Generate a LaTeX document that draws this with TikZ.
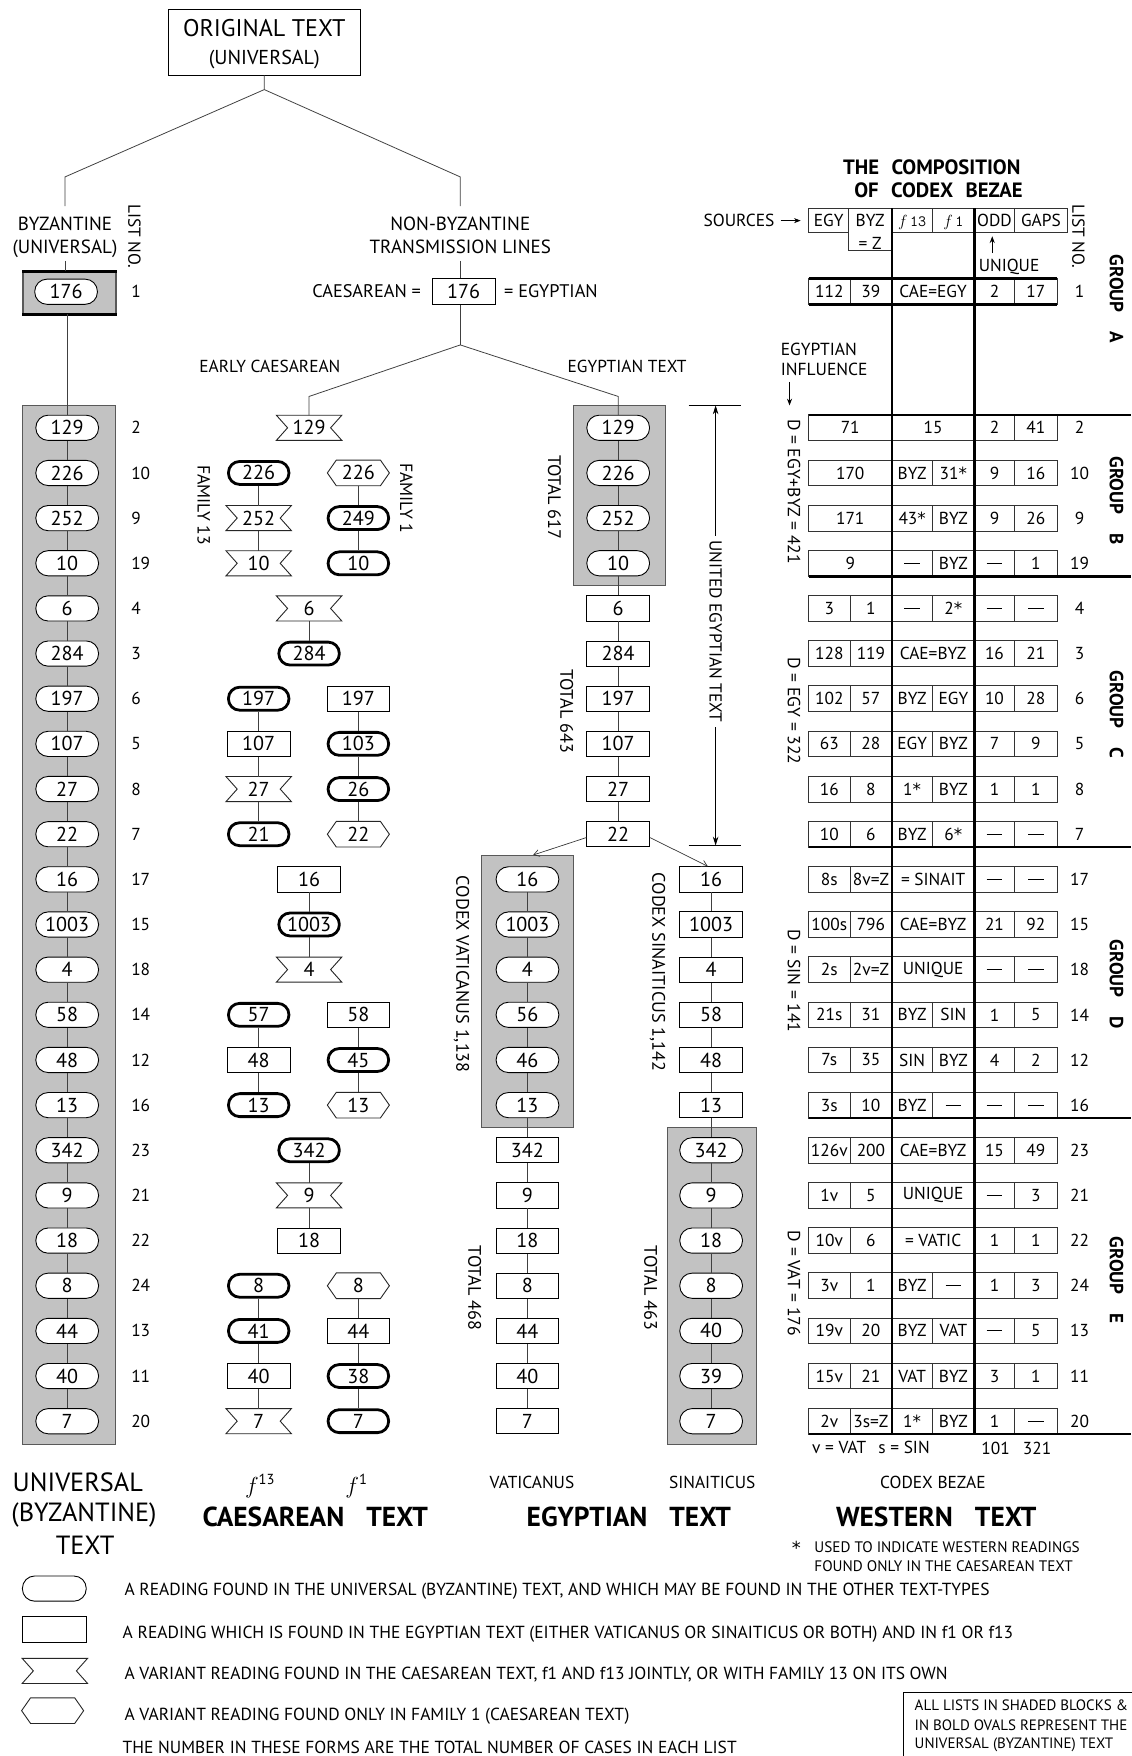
\documentclass[tikz,border=0pt]{standalone}
\usepackage{fontspec}
\setmainfont{PT Sans}
\newfontfamily\dvs{DejaVu Sans}
\usetikzlibrary{arrows.meta}
\definecolor{shade}{gray}{0.76}
\newcommand{\fnum}{\fontsize{18}{21}\selectfont}
\newcommand{\ftab}{\fontsize{15.5}{18}\selectfont}
\newcommand{\flab}{\fontsize{17}{20}\selectfont}
\newcommand{\fmid}{\fontsize{16.3}{19}\selectfont}
\newcommand{\flow}{\fontsize{15.5}{18}\selectfont}
\newcommand{\frot}{\fontsize{16.2}{19}\selectfont}
\newcommand{\fleg}{\fontsize{15.6}{18}\selectfont}
\newcommand{\fsm}{\fontsize{13.6}{16}\selectfont}
\newcommand{\fbx}{\fontsize{13.4}{16}\selectfont}
\newcommand{\fbig}{\fontsize{23.5}{27}\selectfont}
\newcommand{\fbold}{\fontsize{24.5}{28}\selectfont\bfseries}
\newcommand{\fgrp}{\fontsize{17}{20}\selectfont\bfseries}
\newcommand{\dsh}{\rule{14pt}{1pt}}
\newcommand{\st}{{\dvs\fontsize{15}{18}\selectfont *}}
\tikzset{
 conn/.style={line width=0.7pt, draw=black!75},
 ovn/.style={draw=black, line width=0.8pt, fill=white, rounded corners=11pt, minimum width=56pt, minimum height=22.5pt, inner sep=0pt, font=\fnum},
 bovn/.style={ovn, line width=2.5pt, rounded corners=10pt, minimum width=54pt, minimum height=20.5pt},
 rcn/.style={draw=black, line width=0.8pt, fill=white, minimum width=56pt, minimum height=22.5pt, inner sep=0pt, font=\fnum},
 ribn/.style={minimum width=58pt, minimum height=22pt, inner sep=0pt, font=\fnum},
 hexn/.style={minimum width=55pt, minimum height=22.5pt, inner sep=0pt, font=\fnum},
 shp/.style={draw=black!85, line width=0.8pt},
 gblock/.style={fill=shade, draw=black!65, line width=0.9pt},
 lno/.style={font=\fontsize{15.5}{18}\selectfont, inner sep=0pt, anchor=west},
 cellline/.style={line width=0.8pt, draw=black!80},
 tc/.style={font=\ftab, inner sep=0pt},
 thickl/.style={line width=2.4pt},
 lab/.style={font=\flab, inner sep=0pt},
 rl/.style={font=\frot, inner sep=0pt, rotate=-90},
 sm/.style={font=\fsm, inner sep=0pt},
 leg/.style={font=\fleg, inner sep=0pt, anchor=base west},
 arr/.style={-{Stealth[length=6pt,width=4.5pt]}, line width=0.7pt},
 barb/.style={-{Straight Barb[length=5pt,width=6pt]}, line width=0.6pt, draw=black!80},
}
\newcommand{\Rib}[4]{%
  \node[ribn] (#1) at (#2,#3) {#4};
  \draw[shp] (#1.north west) -- (#1.north east) -- ([xshift=-10pt]#1.east) -- (#1.south east) -- (#1.south west) -- ([xshift=10pt]#1.west) -- cycle;}
\newcommand{\Hex}[4]{%
  \node[hexn] (#1) at (#2,#3) {#4};
  \draw[shp] (#1.west) -- ([xshift=8pt]#1.north west) -- ([xshift=-8pt]#1.north east) -- (#1.east) -- ([xshift=-8pt]#1.south east) -- ([xshift=8pt]#1.south west) -- cycle;}
\newcommand{\BOv}[4]{\node[bovn] (#1) at (#2,#3) {#4};}
\newcommand{\Rc}[4]{\node[rcn] (#1) at (#2,#3) {#4};}
\newcommand{\TBox}[1]{\draw[cellline] (722,#1-11.5) rectangle (944,#1+11.5);}
\newcommand{\TDiv}[2]{\draw[cellline] (#2,#1-11.5) -- (#2,#1+11.5);}
\newcommand{\TRow}[8]{\TBox{#1}\TDiv{#1}{759}\TDiv{#1}{832.6}\TDiv{#1}{906}%
  \node[tc] (T#8a) at (740.5,#1) {#2};
  \node[tc] (T#8b) at (777.7,#1) {#3};
  \node[tc] (T#8c) at (814.5,#1) {#4};
  \node[tc] (T#8d) at (851.3,#1) {#5};
  \node[tc] (T#8e) at (888,#1) {#6};
  \node[tc] (T#8f) at (925,#1) {#7};
  \node[tc] (T#8g) at (964,#1) {#8};}
\newcommand{\TRowC}[7]{\TBox{#1}\TDiv{#1}{759}\TDiv{#1}{906}%
  \node[tc] (T#7a) at (740.5,#1) {#2};
  \node[tc] (T#7b) at (777.7,#1) {#3};
  \node[tc] (T#7c) at (833.2,#1) {#4};
  \node[tc] (T#7e) at (888,#1) {#5};
  \node[tc] (T#7f) at (925,#1) {#6};
  \node[tc] (T#7g) at (964,#1) {#7};}
\newcommand{\TRowAB}[7]{\TBox{#1}\TDiv{#1}{832.6}\TDiv{#1}{906}%
  \node[tc] (T#7a) at (759.2,#1) {#2};
  \node[tc] (T#7c) at (814.5,#1) {#3};
  \node[tc] (T#7d) at (851.3,#1) {#4};
  \node[tc] (T#7e) at (888,#1) {#5};
  \node[tc] (T#7f) at (925,#1) {#6};
  \node[tc] (T#7g) at (964,#1) {#7};}
\newcommand{\TRowABC}[6]{\TBox{#1}\TDiv{#1}{906}%
  \node[tc] (T#6a) at (759.2,#1) {#2};
  \node[tc] (T#6c) at (833.2,#1) {#3};
  \node[tc] (T#6e) at (888,#1) {#4};
  \node[tc] (T#6f) at (925,#1) {#5};
  \node[tc] (T#6g) at (964,#1) {#6};}
\begin{document}
\begin{tikzpicture}[x=1pt,y=-1pt]
\useasboundingbox (0,0) rectangle (1010,1568);
\fill[white] (0,0) rectangle (1010,1568);

% ---------- top of tree ----------
\node[draw, line width=0.8pt, minimum width=172pt, minimum height=59pt, inner sep=0pt] (orig) at (236,37.5) {};
\node[font=\fontsize{21.5}{24}\selectfont, inner sep=0pt, anchor=base] (origt1) at (236,33) {ORIGINAL TEXT};
\node[font=\fontsize{18}{21}\selectfont, inner sep=0pt, anchor=base] (origt2) at (236,57.5) {(UNIVERSAL)};
\coordinate (o1) at (236,80);
\coordinate (byzt) at (58,158); \coordinate (byzb) at (58,184);
\coordinate (nbt) at (411,158); \coordinate (nbb) at (411,184);
\draw[conn] (orig.south) -- (o1) -- (byzt) -- (byzb);
\draw[conn] (o1) -- (nbt) -- (nbb);

\node[lab, anchor=base] (byz1) at (58,205.4) {BYZANTINE};
\node[lab, anchor=base] (byz2) at (58,226) {(UNIVERSAL)};
\node[lab, rotate=-90, font=\fontsize{15.5}{18}\selectfont] (lst1) at (120,211) {LIST NO.};
\coordinate (byzc) at (58,233);
\node[gblock, line width=1.4pt, minimum width=83pt, minimum height=37pt, inner sep=0pt] (ubox) at (62,261.5) {};
\draw[line width=2.6pt] (ubox.north west) -- (ubox.north east) (ubox.south west) -- (ubox.south east);
\draw[conn] (byzc) -- (byzc |- ubox.north);
\node[ovn] (U176) at (59,260.5) {176};
\node[lno] (UL1) at (117,260) {1};

\node[lab, anchor=base] (nb1) at (411,205.4) {NON-BYZANTINE};
\node[lab, anchor=base] (nb2) at (411,226) {TRANSMISSION LINES};
\node[rcn, minimum height=23pt] (c176) at (414,260.5) {176};
\coordinate (nbc) at (411,233);
\draw[conn] (nbc) -- (nbc |- c176.north);
\node[font=\fmid, inner sep=0pt, anchor=base east] (caeq) at (376,265.5) {CAESAREAN =};
\node[font=\fmid, inner sep=0pt, anchor=base west] (egeq) at (450,265.5) {= EGYPTIAN};
\coordinate (nbs) at (411,308);
\draw[conn] (nbs |- c176.south) -- (nbs);
\coordinate (cael) at (276,354); \coordinate (egr) at (552,354);
\node[font=\flow, inner sep=0pt, anchor=base] (ecae) at (241,333) {EARLY CAESAREAN};
\node[font=\flow, inner sep=0pt, anchor=base] (etxt) at (560,333) {EGYPTIAN TEXT};

% ---------- shaded blocks ----------
\draw[gblock] (20,362) rectangle (103.5,1289.5);
\draw[gblock] (512,362) rectangle (594.5,523);
\draw[gblock] (430,763.5) rectangle (512,1007);
\draw[gblock] (596,1006.5) rectangle (675.5,1289.5);

% ---------- universal column ----------
\foreach \t/\l [count=\i from 0] in {129/2,226/10,252/9,10/19,6/4,284/3,197/6,107/5,27/8,22/7,16/17,1003/15,4/18,58/14,48/12,13/16,342/23,9/21,18/22,8/24,44/13,40/11,7/20}{
  \node[ovn] (U\i) at (60,382+40.32*\i) {\t};
  \node[lno] (UL\i) at (117,382+40.32*\i) {\l};
}
\draw[conn] (U0.north |- ubox.south) -- (U0.north);
\foreach \i [evaluate=\i as \j using int(\i-1)] in {1,...,22}{\draw[conn] (U\j) -- (U\i);}

% ---------- egyptian column ----------
\foreach \t [count=\i from 0] in {129,226,252,10}{\node[ovn] (E\i) at (552,382+40.32*\i) {\t};}
\foreach \t [count=\i from 4] in {6,284,197,107,27,22}{\node[rcn] (E\i) at (552,382+40.32*\i) {\t};}
\draw[conn] (nbs) -- (egr) -- (E0.north);
\foreach \i [evaluate=\i as \j using int(\i-1)] in {1,...,9}{\draw[conn] (E\j) -- (E\i);}
\node[rl] (tot617) at (495,444) {TOTAL 617};
\node[rl] (tot643) at (506,635) {TOTAL 643};

% ---------- vaticanus ----------
\foreach \t [count=\i from 10] in {16,1003,4,56,46,13}{\node[ovn] (V\i) at (471,382+40.32*\i) {\t};}
\foreach \t [count=\i from 16] in {342,9,18,8,44,40,7}{\node[rcn] (V\i) at (471,382+40.32*\i) {\t};}
\foreach \i [evaluate=\i as \j using int(\i-1)] in {11,...,22}{\draw[conn] (V\j) -- (V\i);}
\node[rl] (cvat) at (412,870) {CODEX VATICANUS 1,138};
\node[rl] (tot468) at (424,1150) {TOTAL 468};

% ---------- sinaiticus ----------
\foreach \t [count=\i from 10] in {16,1003,4,58,48,13}{\node[rcn] (S\i) at (635,382+40.32*\i) {\t};}
\foreach \t [count=\i from 16] in {342,9,18,8,40,39,7}{\node[ovn] (S\i) at (635,382+40.32*\i) {\t};}
\foreach \i [evaluate=\i as \j using int(\i-1)] in {11,...,22}{\draw[conn] (S\j) -- (S\i);}
\node[rl] (csin) at (587,868) {CODEX SINAITICUS 1,142};
\node[rl] (tot463) at (581,1150) {TOTAL 463};

\coordinate (vtop) at (476,763.5);
\draw[barb] ([yshift=-3pt]E9.west) -- (vtop);
\draw[barb] ([yshift=-3pt]E9.east) -- ([xshift=-3pt]S10.north);

% united egyptian text
\coordinate (ua) at (639,362); \coordinate (ub) at (639,755);
\draw[line width=0.8pt] (615,362) -- (662,362) (615,755) -- (662,755);
\draw[line width=0.8pt, {Stealth[length=8pt,width=5pt]}-{Stealth[length=8pt,width=5pt]}] (ua) -- (ub);
\node[font=\fontsize{15.5}{18}\selectfont, rotate=-90, fill=white, inner sep=4pt] (uet) at (639,564) {UNITED EGYPTIAN TEXT};

% ---------- caesarean ----------
\Rib{cj0}{276}{382}{129}
\BOv{ca1}{231}{422.3}{226} \Hex{cb1}{320}{422.3}{226}
\Rib{ca2}{231}{462.6}{252} \BOv{cb2}{320}{462.6}{249}
\Rib{ca3}{231}{503}{10} \BOv{cb3}{320}{503}{10}
\Rib{cj4}{276}{543.3}{6}
\BOv{cj5}{276}{583.6}{284}
\BOv{ca6}{231}{623.9}{197} \Rc{cb6}{320}{623.9}{197}
\Rc{ca7}{231}{664.2}{107} \BOv{cb7}{320}{664.2}{103}
\Rib{ca8}{231}{704.6}{27} \BOv{cb8}{320}{704.6}{26}
\BOv{ca9}{231}{744.9}{21} \Hex{cb9}{320}{744.9}{22}
\Rc{cj10}{276}{785.2}{16}
\BOv{cj11}{276}{825.5}{1003}
\Rib{cj12}{276}{865.8}{4}
\BOv{ca13}{231}{906.2}{57} \Rc{cb13}{320}{906.2}{58}
\Rc{ca14}{231}{946.5}{48} \BOv{cb14}{320}{946.5}{45}
\BOv{ca15}{231}{986.8}{13} \Hex{cb15}{320}{986.8}{13}
\BOv{cj16}{276}{1027.1}{342}
\Rib{cj17}{276}{1067.4}{9}
\Rc{cj18}{276}{1107.8}{18}
\BOv{ca19}{231}{1148.1}{8} \Hex{cb19}{320}{1148.1}{8}
\BOv{ca20}{231}{1188.4}{41} \Rc{cb20}{320}{1188.4}{44}
\Rc{ca21}{231}{1228.7}{40} \BOv{cb21}{320}{1228.7}{38}
\Rib{ca22}{231}{1269}{7} \BOv{cb22}{320}{1269}{7}
\draw[conn] (nbs) -- (cael) -- (cj0.north);
\draw[conn] (ca1) -- (ca2) -- (ca3) (cb1) -- (cb2) -- (cb3);
\draw[conn] (cj4) -- (cj5);
\draw[conn] (ca6) -- (ca7) -- (ca8) -- (ca9) (cb6) -- (cb7) -- (cb8) -- (cb9);
\draw[conn] (cj10) -- (cj11) -- (cj12);
\draw[conn] (ca13) -- (ca14) -- (ca15) (cb13) -- (cb14) -- (cb15);
\draw[conn] (cj16) -- (cj17) -- (cj18);
\draw[conn] (ca19) -- (ca20) -- (ca21) -- (ca22) (cb19) -- (cb20) -- (cb21) -- (cb22);
\node[rl, font=\fontsize{15.8}{18}\selectfont] (fam13) at (182,451) {FAMILY 13};
\node[rl, font=\fontsize{15.8}{18}\selectfont] (fam1) at (363,445) {FAMILY 1};

% ---------- codex bezae table ----------
\node[font=\fontsize{18.5}{21}\selectfont\bfseries, inner sep=0pt] (ttl1) at (832,149) {THE\hspace{0.6em}COMPOSITION};
\node[font=\fontsize{18.5}{21}\selectfont\bfseries, inner sep=0pt] (ttl2) at (838,169.5) {OF\hspace{0.6em}CODEX\hspace{0.6em}BEZAE};
\node[font=\fleg, inner sep=0pt, anchor=base west] (src) at (628,202.4) {SOURCES};
\coordinate (srca) at (697,197); \coordinate (srcb) at (715,197);
\draw[arr] (srca) -- (srcb);
\draw[cellline] (722,186) -- (953,186) -- (953,208) -- (796.5,208) (758,208) -- (722,208) -- (722,186)
  (758,186) -- (758,224) -- (796.5,224) (832.6,186) -- (832.6,208) (906,186) -- (906,208);
\node[tc, anchor=base] (hegy) at (740,202) {EGY};
\node[tc, anchor=base] (hbyz) at (777,202) {BYZ};
\node[tc] (hz) at (777,217) {= Z};
\node[tc, anchor=base] (hf13) at (814.5,202) {\fontsize{14}{16}\selectfont$f$\,\texttt{13}};
\node[tc, anchor=base] (hf1) at (851.3,202) {\fontsize{14}{16}\selectfont$f$\,\texttt{1}};
\node[tc, anchor=base] (hodd) at (888,202) {ODD};
\node[tc, anchor=base] (hgap) at (929.5,202) {GAPS};
\node[lab, rotate=-90, font=\fontsize{15.5}{18}\selectfont] (lst2) at (963,211) {LIST NO.};
\coordinate (uqa) at (886,226); \coordinate (uqb) at (886,211);
\draw[arr] (uqa) -- (uqb);
\node[tc, anchor=base] (uniq) at (901,242.6) {UNIQUE};
\node[font=\fleg, inner sep=0pt, anchor=base west] (egi1) at (697,317) {EGYPTIAN};
\node[font=\fleg, inner sep=0pt, anchor=base west] (egi2) at (697,335) {INFLUENCE};
\coordinate (egia) at (705,341); \coordinate (egib) at (705,362);
\draw[arr] (egia) -- (egib);

\TRowC{260}{112}{39}{CAE=EGY}{2}{17}{1}
\TRowABC{382}{71}{15}{2}{41}{2}
\TRowAB{422.3}{170}{BYZ}{31\st}{9}{16}{10}
\TRowAB{462.6}{171}{43\st}{BYZ}{9}{26}{9}
\TRowAB{503}{9}{\dsh}{BYZ}{\dsh}{1}{19}
\TRow{543.3}{3}{1}{\dsh}{2\st}{\dsh}{\dsh}{4}
\TRowC{583.6}{128}{119}{CAE=BYZ}{16}{21}{3}
\TRow{623.9}{102}{57}{BYZ}{EGY}{10}{28}{6}
\TRow{664.2}{63}{28}{EGY}{BYZ}{7}{9}{5}
\TRow{704.6}{16}{8}{1\st}{BYZ}{1}{1}{8}
\TRow{744.9}{10}{6}{BYZ}{6\st}{\dsh}{\dsh}{7}
\TRowC{785.2}{8s}{8v=Z}{= SINAIT}{\dsh}{\dsh}{17}
\TRowC{825.5}{100s}{796}{CAE=BYZ}{21}{92}{15}
\TRowC{865.8}{2s}{2v=Z}{UNIQUE}{\dsh}{\dsh}{18}
\TRow{906.2}{21s}{31}{BYZ}{SIN}{1}{5}{14}
\TRow{946.5}{7s}{35}{SIN}{BYZ}{4}{2}{12}
\TRow{986.8}{3s}{10}{BYZ}{\dsh}{\dsh}{\dsh}{16}
\TRowC{1027.1}{126v}{200}{CAE=BYZ}{15}{49}{23}
\TRowC{1067.4}{1v}{5}{UNIQUE}{\dsh}{3}{21}
\TRowC{1107.8}{10v}{6}{= VATIC}{1}{1}{22}
\TRow{1148.1}{3v}{1}{BYZ}{\dsh}{1}{3}{24}
\TRow{1188.4}{19v}{20}{BYZ}{VAT}{\dsh}{5}{13}
\TRow{1228.7}{15v}{21}{VAT}{BYZ}{3}{1}{11}
\TRow{1269}{2v}{3s=Z}{1\st}{BYZ}{1}{\dsh}{20}

\draw[thickl] (722,248.5) -- (944,248.5) (722,272) -- (944,272);
\draw[thickl] (722,370.5) -- (1010,370.5) (722,514.5) -- (1010,514.5) (722,756.4) -- (1010,756.4)
  (722,998.3) -- (1010,998.3) (722,1280.5) -- (1010,1280.5);
\draw[thickl] (796.5,186) -- (796.5,1281.7) (870,186) -- (870,1281.7);

\node[lab, rotate=-90, font=\fontsize{15.7}{18}\selectfont] (d1) at (709,439) {D = EGY+BYZ = 421};
\node[lab, rotate=-90, font=\fontsize{15.7}{18}\selectfont] (d2) at (709,635) {D = EGY = 322};
\node[lab, rotate=-90, font=\fontsize{15.7}{18}\selectfont] (d3) at (709,876) {D = SIN = 141};
\node[lab, rotate=-90, font=\fontsize{15.7}{18}\selectfont] (d4) at (709,1146) {D = VAT = 176};
\node[font=\fgrp, inner sep=0pt, rotate=-90] (ga) at (997,267) {GROUP\hspace{1em}A};
\node[font=\fgrp, inner sep=0pt, rotate=-90] (gb) at (997,447) {GROUP\hspace{1em}B};
\node[font=\fgrp, inner sep=0pt, rotate=-90] (gc) at (997,638) {GROUP\hspace{1em}C};
\node[font=\fgrp, inner sep=0pt, rotate=-90] (gd) at (997,879) {GROUP\hspace{1em}D};
\node[font=\fgrp, inner sep=0pt, rotate=-90] (ge) at (997,1143) {GROUP\hspace{1em}E};
\node[tc, anchor=west] (vs) at (725,1292) {v = VAT\hspace{0.7em}s = SIN};
\node[tc] (t101) at (889,1293.5) {101};
\node[tc] (t321) at (926,1293.5) {321};

% ---------- bottom labels ----------
\node[font=\fbig, inner sep=0pt] (bu1) at (69.5,1324) {UNIVERSAL};
\node[font=\fbig, inner sep=0pt] (bu2) at (75,1353) {(BYZANTINE)};
\node[font=\fbig, inner sep=0pt] (bu3) at (76,1380) {TEXT};
\node[inner sep=0pt] (f13l) at (232,1327) {\fontsize{21}{24}\selectfont$f$\raisebox{8pt}{\fontsize{13}{15}\selectfont 13}};
\node[inner sep=0pt] (f1l) at (318,1327) {\fontsize{21}{24}\selectfont$f$\raisebox{8pt}{\fontsize{13}{15}\selectfont 1}};
\node[font=\fbold, inner sep=0pt] (caet) at (281.5,1354.5) {CAESAREAN\hspace{0.8em}TEXT};
\node[font=\flow, inner sep=0pt] (vatl) at (475,1324) {VATICANUS};
\node[font=\flow, inner sep=0pt] (sinl) at (636,1324) {SINAITICUS};
\node[font=\fbold, inner sep=0pt] (egt) at (561.5,1354.5) {EGYPTIAN\hspace{0.8em}TEXT};
\node[font=\flow, inner sep=0pt] (bezl) at (833,1324) {CODEX BEZAE};
\node[font=\fbold, inner sep=0pt] (wet) at (836,1354.5) {WESTERN\hspace{0.8em}TEXT};
\node[inner sep=0pt, anchor=base] (star) at (711,1388) {{\dvs\fontsize{16}{18}\selectfont *}};
\node[sm, anchor=base west] (st1) at (727,1386) {USED TO INDICATE WESTERN READINGS};
\node[sm, anchor=base west] (st2) at (727,1403.6) {FOUND ONLY IN THE CAESAREAN TEXT};

% ---------- legend ----------
\node[ovn, minimum width=57pt] (lg1) at (48.5,1418.5) {};
\node[rcn, minimum width=57pt] (lg2) at (48.5,1455) {};
\Rib{lg3}{49}{1492}{}
\Hex{lg4}{47}{1527.5}{}
\node[leg] (lt1) at (111,1425) {A READING FOUND IN THE UNIVERSAL (BYZANTINE) TEXT, AND WHICH MAY BE FOUND IN THE OTHER TEXT-TYPES};
\node[leg] (lt2) at (109.4,1463) {A READING WHICH IS FOUND IN THE EGYPTIAN TEXT (EITHER VATICANUS OR SINAITICUS OR BOTH) AND IN f1 OR f13};
\node[leg] (lt3) at (111,1500) {A VARIANT READING FOUND IN THE CAESAREAN TEXT, f1 AND f13 JOINTLY, OR WITH FAMILY 13 ON ITS OWN};
\node[leg] (lt4) at (111,1536.6) {A VARIANT READING FOUND ONLY IN FAMILY 1 (CAESAREAN TEXT)};
\node[leg] (lt5) at (109.4,1565.5) {THE NUMBER IN THESE FORMS ARE THE TOTAL NUMBER OF CASES IN EACH LIST};
\draw[line width=0.8pt] (807,1511) rectangle (1020,1580);
\node[font=\fbx, inner sep=0pt, anchor=base west] (bx1) at (816.6,1527) {ALL LISTS IN SHADED BLOCKS \&};
\node[font=\fbx, inner sep=0pt, anchor=base west] (bx2) at (816.6,1545) {IN BOLD OVALS REPRESENT THE};
\node[font=\fbx, inner sep=0pt, anchor=base west] (bx3) at (816.6,1561) {UNIVERSAL (BYZANTINE) TEXT};
\end{tikzpicture}
\end{document}
